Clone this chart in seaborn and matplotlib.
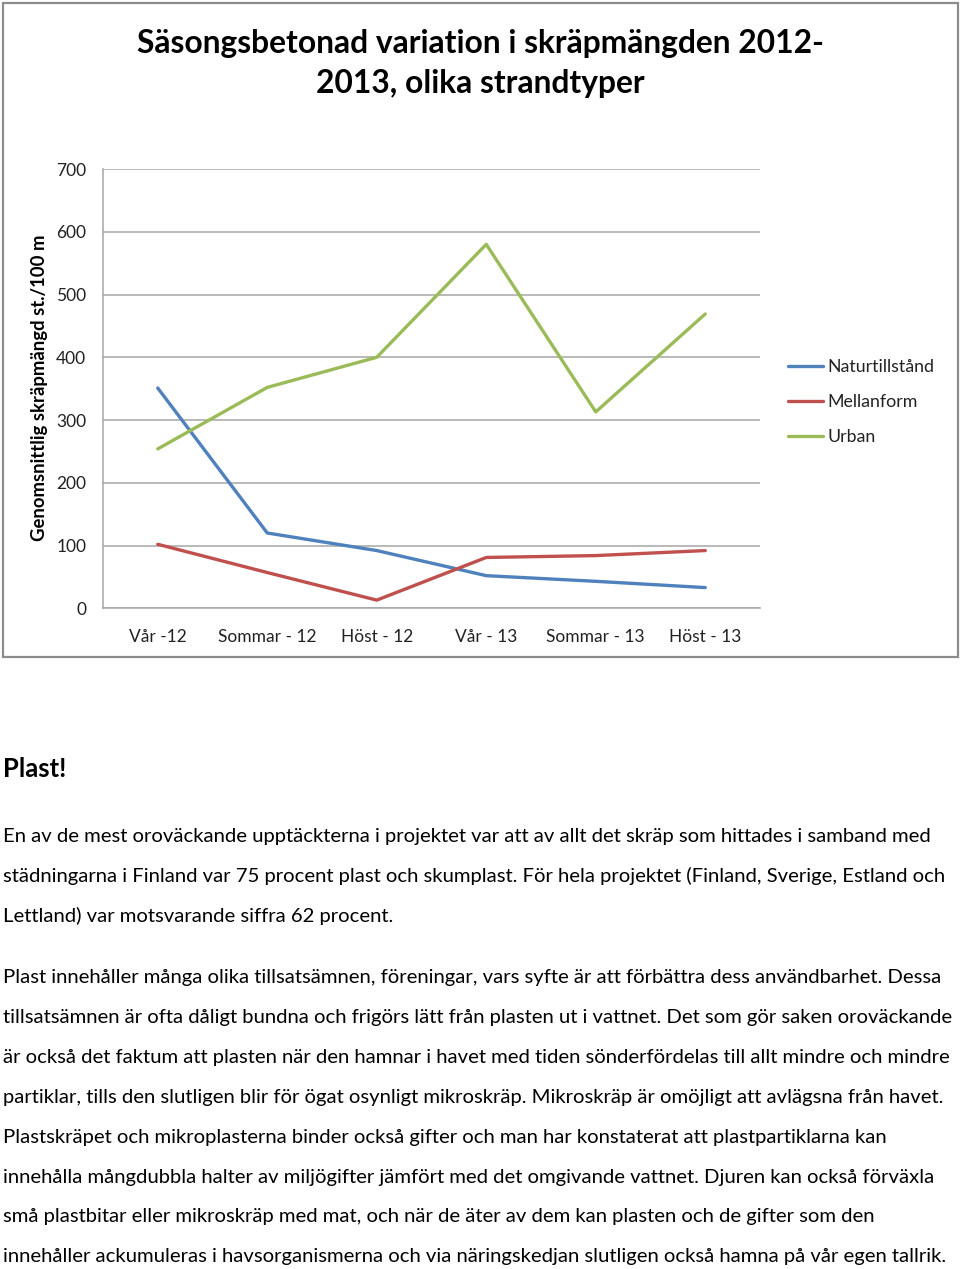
import numpy as np
import pandas as pd
import matplotlib
matplotlib.use("Agg")
import matplotlib.pyplot as plt
import seaborn as sns
from matplotlib.patches import Rectangle
from matplotlib.lines import Line2D

# ---------------- data ----------------
seasons = ["Vår -12", "Sommar - 12", "Höst - 12", "Vår - 13", "Sommar - 13", "Höst - 13"]
naturtillstand = [351, 120, 92, 52, 43, 33]
mellanform = [102, 57, 13, 81, 84, 92]
urban = [254, 352, 400, 580, 313, 469]
series_names = ["Naturtillstånd", "Mellanform", "Urban"]
series_colors = ["#4F81BD", "#C0504D", "#9BBB59"]
yticks = [0, 100, 200, 300, 400, 500, 600, 700]

title_lines = ["Säsongsbetonad variation i skräpmängden 2012-", "2013, olika strandtyper"]
ylabel = "Genomsnittlig skräpmängd st./100 m"
heading = "Plast!"
para1 = [
    "En av de mest oroväckande upptäckterna i projektet var att av allt det skräp som hittades i samband med",
    "städningarna i Finland var 75 procent plast och skumplast. För hela projektet (Finland, Sverige, Estland och",
    "Lettland) var motsvarande siffra 62 procent.",
]
para2 = [
    "Plast innehåller många olika tillsatsämnen, föreningar, vars syfte är att förbättra dess användbarhet. Dessa",
    "tillsatsämnen är ofta dåligt bundna och frigörs lätt från plasten ut i vattnet. Det som gör saken oroväckande",
    "är också det faktum att plasten när den hamnar i havet med tiden sönderfördelas till allt mindre och mindre",
    "partiklar, tills den slutligen blir för ögat osynligt mikroskräp. Mikroskräp är omöjligt att avlägsna från havet.",
    "Plastskräpet och mikroplasterna binder också gifter och man har konstaterat att plastpartiklarna kan",
    "innehålla mångdubbla halter av miljögifter jämfört med det omgivande vattnet. Djuren kan också förväxla",
    "små plastbitar eller mikroskräp med mat, och när de äter av dem kan plasten och de gifter som den",
    "innehåller ackumuleras i havsorganismerna och via näringskedjan slutligen också hamna på vår egen tallrik.",
]

# ---------------- style ----------------
sns.set_theme(style="white")
plt.rcParams["font.family"] = ["Lato", "DejaVu Sans"]

W, H = 960, 1269
fig = plt.figure(figsize=(W / 100, H / 100), dpi=100)
fig.patch.set_facecolor("white")


def fx(px):
    return px / W


def fy(py):
    return 1 - py / H


renderer = fig.canvas.get_renderer()


def fit_size(text, target_px, base=14, **kw):
    t = fig.text(0, 0, text, fontsize=base, **kw)
    w = t.get_window_extent(renderer).width
    t.remove()
    return base * target_px / w


# outer chart border
fig.add_artist(Rectangle((fx(3), fy(657)), fx(958) - fx(3), (657 - 3) / H,
                         transform=fig.transFigure, fill=False,
                         edgecolor="#8c8c8c", lw=1.6))

# ---------------- chart ----------------
ax = fig.add_axes([fx(103), fy(608.3), fx(760) - fx(103), (608.3 - 169) / H])
df = pd.DataFrame({
    "season": seasons * 3,
    "value": naturtillstand + mellanform + urban,
    "series": sum([[n] * len(seasons) for n in series_names], []),
})
sns.lineplot(data=df, x="season", y="value", hue="series",
             palette=dict(zip(series_names, series_colors)),
             hue_order=series_names, linewidth=2.4, sort=False,
             legend=False, ax=ax)

ax.set_xlim(-0.5, len(seasons) - 0.5)
ax.set_ylim(0, 700)
ax.set_yticks(yticks)
ax.set_yticklabels([str(v) for v in yticks])
ax.set_xticks(range(len(seasons)))
ax.set_xticklabels(seasons)
ax.set_xlabel("")
ax.set_ylabel("")
ax.grid(axis="y", color="#a6a6a6", lw=1.1)
ax.grid(axis="x", visible=False)
for s in ["top", "right"]:
    ax.spines[s].set_visible(False)
for s in ["left", "bottom"]:
    ax.spines[s].set_color("#a6a6a6")
    ax.spines[s].set_linewidth(1.1)
ax.tick_params(axis="y", length=4, width=1, color="#a6a6a6", direction="out",
               pad=8, labelsize=12.5, labelcolor="#222222")
ax.tick_params(axis="x", length=0, pad=15, labelsize=12.5, labelcolor="#222222")
ax.set_facecolor("white")

# y label
fig.text(fx(40), fy(388), ylabel, rotation=90, ha="center", va="center",
         fontsize=13.3, fontweight="bold", color="black")

# title
tsize = fit_size(title_lines[0], 693, fontweight="bold")
for i, line in enumerate(title_lines):
    fig.text(fx(480), fy(43 + 40 * i), line, ha="center", va="center",
             fontsize=tsize, fontweight="bold", color="black")

# legend
handles = [Line2D([0], [0], color=c, lw=2.4) for c in series_colors]
fig.legend(handles, series_names, loc="center left",
           bbox_to_anchor=(fx(788), fy(402)), frameon=False,
           fontsize=12.8, handlelength=1.95, handletextpad=0.28,
           labelspacing=1.06, borderaxespad=0, borderpad=0,
           labelcolor="#222222")

# ---------------- body text ----------------
bsize = fit_size(para2[2], 950)
fig.text(fx(3), fy(777), heading, ha="left", va="baseline",
         fontsize=bsize * 1.27, fontweight="bold", color="black")
y = 842
for line in para1:
    fig.text(fx(3), fy(y), line, ha="left", va="baseline", fontsize=bsize, color="black")
    y += 40
y = 983
for line in para2:
    fig.text(fx(3), fy(y), line, ha="left", va="baseline", fontsize=bsize, color="black")
    y += 39.9

fig.savefig("out.png", dpi=100, facecolor="white")
